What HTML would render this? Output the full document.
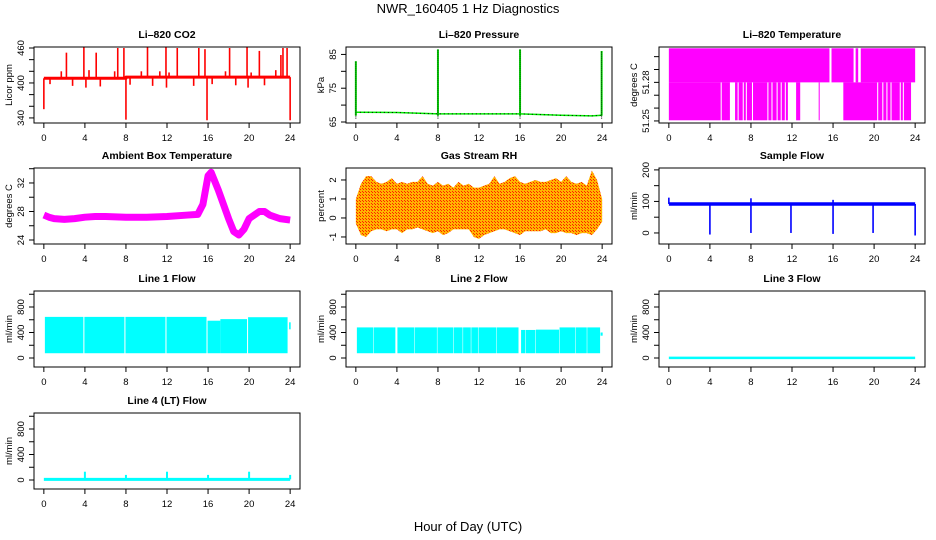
<!DOCTYPE html>
<html><head><meta charset="utf-8">
<style>
html,body{margin:0;padding:0;background:#fff;}
svg{display:block;font-family:"Liberation Sans",sans-serif;}
</style></head>
<body>
<svg id="chart" width="936" height="540" viewBox="0 0 936 540">
<defs>
<pattern id="rhpat" width="3" height="3" patternUnits="userSpaceOnUse">
<rect width="3" height="3" fill="#ffb400"/>
<rect x="0" y="0" width="1" height="1" fill="#ff2000"/>
<rect x="2" y="2" width="1" height="1" fill="#ff2000"/>
</pattern>
</defs>
<text x="468" y="13" text-anchor="middle" font-size="13">NWR_160405  1 Hz Diagnostics</text>
<text x="468" y="531" text-anchor="middle" font-size="13">Hour of Day (UTC)</text>
</svg>
<script>
// ---- data ----
const xTicks = [0,4,8,12,16,20,24];
// CO2
const co2BaseTimes = [0,8,8,24];
const co2BaseVals = [408,408,410,410];
const co2SpikeTimes = [2.2,3.9,5.1,7.2,7.8,10.1,11.9,13.0,15.1,15.7,18.1,19.8,21.0,23.1,23.3,23.7,1.7,4.4,6.9,9.5,11.3,12.2,17.7,20.2,22.6,0.0,0.6,2.8,4.1,5.5,8.0,8.4,10.6,11.95,14.6,15.9,16.4,18.7,19.9,21.5,24.0];
const co2SpikeVals = [452,462,452,460,460,461,462,460,460,458,460,462,455,448,460,460,420,422,420,420,420,418,420,418,422,355,398,395,392,394,337,397,395,392,395,336,398,396,392,396,336];
// Pressure
const presTimes = [0,4,8,12,16,20,23,24];
const presVals = [67.9,67.8,67.4,67.4,67.4,67.0,66.8,67.0];
const presSpikeTimes = [0.0,8.0,16.0,23.95];
const presSpikeVals = [83,86.5,86.5,86];
// Li-820 temperature: filled intervals
const tempUpperStart = [0,15.85,18.2,18.7];
const tempUpperEnd = [15.65,18.0,18.45,24];
const tempLowerStart = [0,5.15,6.45,6.8,7.3,7.6,8.2,9.7,10.1,10.6,11.0,11.4,12.4,14.6,17.0,20.4,20.9,21.3,21.7,22.6,22.9];
const tempLowerEnd = [5.05,5.95,6.7,7.2,7.5,8.1,9.6,10.0,10.5,10.9,11.3,11.6,12.8,14.7,20.3,20.8,21.2,21.6,22.5,22.8,23.6];
const tempLevels = [51.2505,51.2800,51.3065];
// Ambient box temperature
const ambTimes = [0,0.5,1,2,3,4,5,6,8,10,12,14,15,15.5,16,16.3,17,18,18.5,19,19.5,20,21,21.5,22,23,24];
const ambVals = [27.5,27.2,27.0,26.9,27.0,27.2,27.3,27.3,27.2,27.2,27.3,27.5,27.6,29,33,33.5,31,27,25.2,24.7,25.5,27,28,28,27.5,27,26.8];
// Gas stream RH envelope (half-hour bins)
const rhMax = [1.0,1.8,2.2,2.2,1.9,1.8,1.9,2.1,1.8,1.9,1.8,1.9,1.9,2.2,1.8,1.7,1.9,1.7,1.8,1.6,1.9,1.7,1.8,1.6,1.6,1.7,1.8,2.2,1.8,1.9,2.1,2.2,1.9,1.8,1.9,2.0,1.9,1.9,2.0,2.1,1.9,2.2,1.9,1.8,1.9,1.7,2.5,2.0,1.0];
const rhMin = [-0.3,-0.9,-1.0,-0.7,-0.6,-0.6,-0.7,-0.6,-0.6,-0.8,-0.6,-0.6,-0.5,-0.6,-0.7,-0.8,-0.7,-0.9,-0.8,-0.6,-0.6,-0.6,-0.6,-1.0,-1.1,-0.9,-0.8,-0.7,-0.6,-0.6,-0.7,-0.8,-0.9,-0.7,-0.7,-0.7,-0.7,-0.6,-0.8,-0.8,-0.7,-0.8,-0.8,-0.9,-0.8,-0.8,-0.9,-0.6,-0.2];
// Sample flow
const sfBase = 92;
const sfSpikeTimes = [0.0,4.0,8.0,11.9,16.0,19.9,24.0,8.0,16.0];
const sfSpikeVals = [112,-5,0,0,-3,0,-8,110,105];
// Line 1 flow blocks
const l1Start = [0.1,3.95,7.95,11.95,15.95,17.2,19.9,23.9];
const l1End = [3.85,7.85,11.85,15.85,17.2,19.8,23.75,24.05];
const l1Top = [645,645,645,645,585,610,640,560];
const l1Bot = [75,75,75,75,75,75,75,450];
// Line 2 flow blocks
const l2Start = [0.1,1.75,4.05,5.75,7.95,9.55,10.45,11.25,11.95,13.75,16.1,16.55,17.55,19.85,21.45,22.55,23.85];
const l2End = [1.7,3.85,5.7,7.9,9.5,10.4,11.2,11.9,13.7,15.85,16.5,17.5,19.8,21.4,22.5,23.8,24.05];
const l2Top = [480,480,480,480,480,480,480,480,480,480,440,440,445,480,480,480,400];
const l2Bot = [75,75,75,75,75,75,75,75,75,75,75,75,75,75,75,75,350];
// Line 3 flow
const l3Times = [0,24];
const l3Vals = [2,2];
// Line 4 flow
const l4Base = 10;
const l4SpikeTimes = [4,8,12,16,20,24];
const l4SpikeVals = [130,80,130,80,130,80];

// ---- layout ----
const NS = "http://www.w3.org/2000/svg";
const svg = document.getElementById("chart");
const colX = [34,346,659];
const rowY = [47,168,291,413];
const PW = 266, PH = 76;

function mk(tag, attrs, parent){
  const e = document.createElementNS(NS, tag);
  for (const k in attrs) e.setAttribute(k, attrs[k]);
  (parent||svg).appendChild(e);
  return e;
}

function panel(c, r, title, ylab, ylim, yticks, ylabels, name){
  const L = colX[c], T = rowY[r];
  const xs = h => L + (h + 0.96) / 25.92 * PW;
  const ys = v => T + PH - (v - ylim[0]) / (ylim[1] - ylim[0]) * PH;
  const g = mk("g", {});
  
  
  const clipId = "clip" + c + r;
  const cp = mk("clipPath", {id: clipId}, g);
  mk("rect", {x: L, y: T, width: PW, height: PH}, cp);
  const plot = mk("g", {"clip-path": "url(#" + clipId + ")"}, g);
  
  
  const box = mk("rect", {x: L, y: T, width: PW, height: PH, fill: "none", stroke: "#000", "stroke-width": 1}, g);
  
  
  const t = mk("text", {x: L + PW/2, y: T - 9, "text-anchor": "middle", "font-size": 10.5, "font-weight": "bold"}, g);
  t.textContent = title;
  
  
  const xa = mk("g", {}, g);
  
  
  const yb = T + PH;
  mk("line", {x1: xs(0), x2: xs(24), y1: yb, y2: yb, stroke: "#000"}, xa);
  xTicks.forEach(v => {
    mk("line", {x1: xs(v), x2: xs(v), y1: yb, y2: yb + 5, stroke: "#000"}, xa);
    const tl = mk("text", {x: xs(v), y: yb + 18, "text-anchor": "middle", "font-size": 9.5}, xa);
    tl.textContent = v;
    
    
  });
  const ya = mk("g", {}, g);
  
  
  mk("line", {x1: L, x2: L, y1: ys(yticks[0]), y2: ys(yticks[yticks.length-1]), stroke: "#000"}, ya);
  yticks.forEach(v => {
    mk("line", {x1: L - 5, x2: L, y1: ys(v), y2: ys(v), stroke: "#000"}, ya);
  });
  ylabels.forEach(v => {
    const tl = mk("text", {x: 0, y: 0, "text-anchor": "middle", "font-size": 9.5, transform: "translate(" + (L - 10) + "," + ys(v) + ") rotate(-90)"}, ya);
    tl.textContent = v;
    
    
  });
  const yl = mk("text", {x: 0, y: 0, "text-anchor": "middle", "font-size": 9.5, transform: "translate(" + (L - 22) + "," + (T + PH/2) + ") rotate(-90)"}, g);
  yl.textContent = ylab;
  
  
  return {xs, ys, plot};
}

function vline(p, x, v0, v1, color, w, nm){
  const l = mk("line", {x1: p.xs(x), x2: p.xs(x), y1: p.ys(v0), y2: p.ys(v1), stroke: color, "stroke-width": w}, p.plot);
  
  
}
function poly(p, ts, vs, color, w, nm){
  const l = mk("polyline", {points: ts.map((t,i) => p.xs(t) + "," + p.ys(vs[i])).join(" "), fill: "none", stroke: color, "stroke-width": w, "stroke-linejoin": "round"}, p.plot);
  
  
  return l;
}
function block(p, a, b, lo, hi, color, nm){
  const r = mk("rect", {x: p.xs(a), y: p.ys(hi), width: Math.max(0.8, p.xs(b) - p.xs(a)), height: p.ys(lo) - p.ys(hi), fill: color}, p.plot);
  
  
}

// CO2
let p = panel(0,0,"Li\u2013820 CO2","Licor ppm",[331.3,461.7],[340,360,380,400,420,440,460],[340,400,460],"co2");
co2SpikeTimes.forEach((t,i) => vline(p, t, t < 8 ? 408 : 410, co2SpikeVals[i], "#ff0000", 1.6, "co2-spike"));
poly(p, co2BaseTimes, co2BaseVals, "#ff0000", 3, "co2-line");

// Pressure
p = panel(1,0,"Li\u2013820 Pressure","kPa",[64.7,87.2],[65,70,75,80,85],[65,75,85],"pressure");
poly(p, presTimes, presVals, "#00ee00", 1.5, "pressure-line");
const pd = poly(p, presTimes, presVals, "#000", 1, "pressure-line-dotted");
pd.setAttribute("stroke-dasharray", "1,3");
presSpikeTimes.forEach((t,i) => {
  vline(p, t, presVals[0] - 1, presSpikeVals[i], "#00ee00", 2, "pressure-spike");
  const l = mk("line", {x1: p.xs(t), x2: p.xs(t), y1: p.ys(66), y2: p.ys(presSpikeVals[i]), stroke: "#000", "stroke-width": 1, "stroke-dasharray": "1,1"}, p.plot);
  
  
});

// Li-820 temperature
p = panel(2,0,"Li\u2013820 Temperature","degrees C",[51.2484,51.3075],[51.25,51.26,51.27,51.28,51.29,51.30],[51.25,51.28],"li820-temp");
tempUpperStart.forEach((s,i) => block(p, s, tempUpperEnd[i], tempLevels[1], tempLevels[2], "#ff00ff", "temp-upper-band"));
tempLowerStart.forEach((s,i) => block(p, s, tempLowerEnd[i], tempLevels[0], tempLevels[1], "#ff00ff", "temp-lower-band"));

// Ambient
p = panel(0,1,"Ambient Box Temperature","degrees C",[23.44,34.1],[24,26,28,30,32,34],[24,28,32],"ambient");
poly(p, ambTimes, ambVals, "#ff00ff", 7, "ambient-line");

// RH
p = panel(1,1,"Gas Stream RH","percent",[-1.37,2.63],[-1,0,1,2],[-1,0,1,2],"rh");
{
  const tt = rhMax.map((_, i) => i * 0.5);
  const pts = tt.map((t,i) => p.xs(t) + "," + p.ys(rhMax[i])).concat(tt.slice().reverse().map((t,j) => p.xs(t) + "," + p.ys(rhMin[tt.length-1-j])));
  const pg = mk("polygon", {points: pts.join(" "), fill: "url(#rhpat)"}, p.plot);
  
  
}

// Sample flow
p = panel(2,1,"Sample Flow","ml/min",[-35,206],[0,50,100,150,200],[0,100,200],"sample-flow");
sfSpikeTimes.forEach((t,i) => vline(p, t, sfBase, sfSpikeVals[i], "#0000ff", 1.6, "sample-flow-spike"));
poly(p, [0,24], [sfBase, sfBase], "#0000ff", 3.5, "sample-flow-line");

const flowTicks = [0,200,400,600,800,1000], flowLabels = [0,400,800], flowLim = [-141,1051];
p = panel(0,2,"Line 1 Flow","ml/min",flowLim,flowTicks,flowLabels,"line1-flow");
l1Start.forEach((s,i) => block(p, s, l1End[i], l1Bot[i], l1Top[i], "#00ffff", "line1-block"));
p = panel(1,2,"Line 2 Flow","ml/min",flowLim,flowTicks,flowLabels,"line2-flow");
l2Start.forEach((s,i) => block(p, s, l2End[i], l2Bot[i], l2Top[i], "#00ffff", "line2-block"));
p = panel(2,2,"Line 3 Flow","ml/min",flowLim,flowTicks,flowLabels,"line3-flow");
poly(p, l3Times, l3Vals, "#00ffff", 2.5, "line3-line");
p = panel(0,3,"Line 4 (LT) Flow","ml/min",flowLim,flowTicks,flowLabels,"line4-flow");
l4SpikeTimes.forEach((t,i) => vline(p, t, l4Base, l4SpikeVals[i], "#00ffff", 2, "line4-spike"));
poly(p, [0,24], [l4Base, l4Base], "#00ffff", 3, "line4-line");
</script>
</body></html>
